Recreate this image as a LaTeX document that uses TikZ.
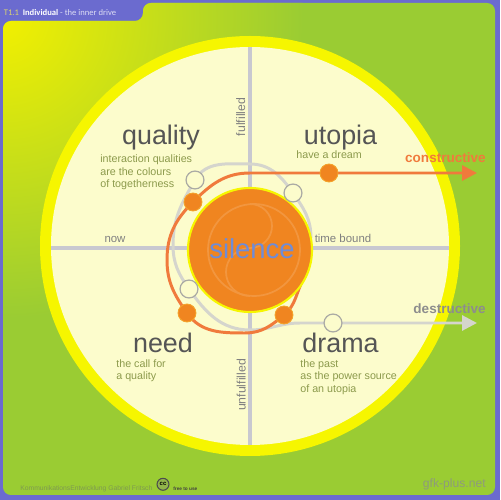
\documentclass[tikz,border=0pt]{standalone}
\usepackage{fontspec}
\setmainfont{Liberation Sans}
\newfontfamily\tabfont{Carlito}
\usetikzlibrary{arrows.meta}

\definecolor{bgpurple}{HTML}{6B6BCF}
\definecolor{leafgreen}{HTML}{9ACC33}
\definecolor{sunyellow}{HTML}{F2F000}
\definecolor{ringyellow}{HTML}{F6F600}
\definecolor{creamfill}{HTML}{FCFCCC}
\definecolor{axisgray}{HTML}{C8C8D0}
\definecolor{coreorange}{HTML}{F08520}
\definecolor{driveorange}{HTML}{F07A3C}
\definecolor{fadegray}{HTML}{D5D5CD}
\definecolor{headgray}{HTML}{555555}
\definecolor{olivetext}{HTML}{8C9A4C}
\definecolor{labelgray}{HTML}{808080}
\definecolor{skyblue}{HTML}{6E8CD8}
\definecolor{footgreen}{HTML}{7E9A50}
\definecolor{netgray}{HTML}{8E9A7C}
\definecolor{tabyellow}{HTML}{DDD470}
\definecolor{tablight}{HTML}{DCDCF4}

\tikzset{
  heading/.style={font=\fontsize{15.3}{17}\selectfont, text=headgray, inner sep=0pt, anchor=base},
  subtext/.style={font=\fontsize{6.1}{7}\selectfont, text=olivetext, inner sep=0pt, align=left, anchor=north west},
  axislabel/.style={font=\fontsize{6.5}{8}\selectfont, text=labelgray, inner sep=0pt, anchor=base},
  odot/.style={circle, fill=coreorange, draw=driveorange!70!yellow, line width=0.5pt, minimum size=10.2pt, inner sep=0pt},
  wdot/.style={circle, fill=creamfill, draw=fadegray!80!black, line width=0.7pt, minimum size=10.2pt, inner sep=0pt},
  axisline/.style={axisgray, line width=1.9pt},
  drivepath/.style={driveorange, line width=1.7pt, <-},
  fadepath/.style={fadegray, line width=1.7pt, <-},
  swirl/.style={coreorange!86!white, line width=1pt},
}

\begin{document}
\begin{tikzpicture}[x=0.02cm,y=0.02cm,>={Triangle[length=8.5pt,width=8.5pt]}]
  \useasboundingbox (0,0) rectangle (500,500);
  \fill[bgpurple] (0,0) rectangle (500,500);
  \begin{scope}
    \clip[rounded corners=4.5pt] (3,5) -- (3,479) -- (143,479) -- (143,497) -- (495,497) -- (495,5) -- cycle;
    \fill[leafgreen] (0,0) rectangle (500,500);
    \shade[inner color=sunyellow, outer color=leafgreen] (3,482) circle (300);
  \end{scope}
  \node[font=\tabfont\fontsize{4.9}{6}\selectfont, anchor=base west, inner sep=0pt] (title) at (3.5,484.3)
    {\textcolor{tabyellow}{T1.1}\hspace{2.2pt}\textcolor{white}{\bfseries Individual} \textcolor{tablight}{- the inner drive}};

  \fill[ringyellow] (250,254) circle (210);
  \fill[creamfill] (250,254) circle (199);
  \draw[axisline] (250,55) -- (250,453);
  \draw[axisline] (51,252) -- (449,252);

  \draw[fadepath] (477,177) -- (300,177) to[out=180,in=0] (250,170) to[out=180,in=-55] (189,211)
    to[out=125,in=270] (173,255) to[out=90,in=240] (195,320) to[out=60,in=180] (250,336)
    to[out=0,in=125] (293,307) to[out=-55,in=90] (311,262);
  \draw[drivepath] (477,327) -- (250,327) to[out=180,in=45] (193,298) to[out=225,in=90] (167,240)
    to[out=270,in=125] (187,187) to[out=-55,in=180] (245,167) to[out=0,in=220] (284,185)
    to[out=40,in=240] (304,222);

  \filldraw[fill=coreorange, draw=ringyellow, line width=1.2pt] (250,250) circle (62);
  \draw[swirl] (254,250) circle (46);
  \draw[swirl] (250,296) arc[start angle=90, end angle=-90, radius=22] arc[start angle=90, end angle=270, radius=24];
  \node[font=\fontsize{15.6}{18}\selectfont, text=skyblue, anchor=base, inner sep=0pt] (silence) at (252,241.7) {silence};

  \node[wdot] (w1) at (195,320) {};
  \node[wdot] (w2) at (293,307) {};
  \node[wdot] (w3) at (189,211) {};
  \node[wdot] (w4) at (333,177) {};
  \node[odot] (o1) at (193,298) {};
  \node[odot] (o2) at (187,187) {};
  \node[odot] (o3) at (284,185) {};
  \node[odot] (o4) at (329,327) {};

  \node[heading] (quality) at (161,355.5) {quality};
  \node[heading] (utopia) at (340.5,355.5) {utopia};
  \node[heading] (need) at (163,147) {need};
  \node[heading] (drama) at (340.5,147) {drama};
  \node[subtext] (qualitytext) at (100,345.3) {interaction qualities\\are the colours\\of togetherness};
  \node[subtext] (utopiatext) at (296,349.2) {have a dream};
  \node[subtext] (needtext) at (116,140.7) {the call for\\a quality};
  \node[subtext] (dramatext) at (300,140.7) {the past\\as the power source\\of an utopia};

  \node[font=\bfseries\fontsize{7.7}{9}\selectfont, text=driveorange, anchor=base east, inner sep=0pt] (constructive) at (486,337.7) {constructive};
  \node[font=\bfseries\fontsize{7.7}{9}\selectfont, text=labelgray!90, anchor=base east, inner sep=0pt] (destructive) at (486,186.7) {destructive};

  \node[axislabel] (now) at (115,257) {now};
  \node[axislabel] (timebound) at (343,257) {time bound};
  \node[axislabel, font=\fontsize{7}{8}\selectfont, rotate=90] (fulfilled) at (245,383) {fulfilled};
  \node[axislabel, font=\fontsize{7}{8}\selectfont, rotate=90] (unfulfilled) at (245.5,115) {unfulfilled};

  \node[font=\fontsize{3.85}{5}\selectfont, text=footgreen, anchor=base west, inner sep=0pt] (credit) at (20,9.3) {KommunikationsEntwicklung Gabriel Fritsch};
  \node[circle, draw=black!70, fill=leafgreen!70!gray, line width=0.6pt, minimum size=6.8pt, inner sep=0pt, font=\bfseries\fontsize{3.4}{4}\selectfont] (cc) at (163,15.7) {cc};
  \node[font=\bfseries\fontsize{2.7}{3}\selectfont, text=black!75, anchor=base west, inner sep=0pt] (free) at (173,10) {free to use};
  \node[font=\fontsize{6.9}{8}\selectfont, text=netgray, anchor=base east, inner sep=0pt] (site) at (486,12.7) {gfk-plus.net};
\end{tikzpicture}
\end{document}
